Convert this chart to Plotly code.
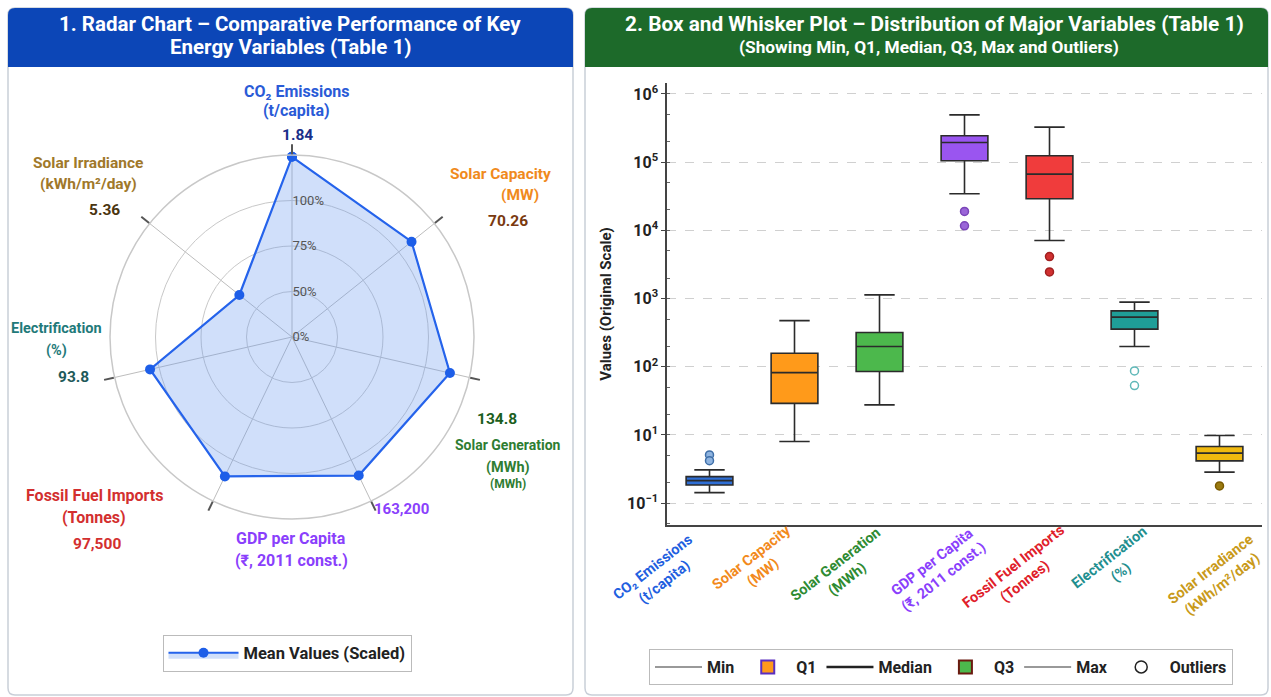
import plotly.graph_objects as go

W, H = 1271, 697

# ---------------- data ----------------
radar_categories = ["CO2 Emissions", "Solar Capacity", "Solar Generation", "GDP per Capita",
                    "Fossil Fuel Imports", "Electrification", "Solar Irradiance"]
radar_scaled = [0.99, 0.84, 0.89, 0.845, 0.85, 0.80, 0.37]
radar_means = ["1.84", "70.26", "134.8", "163,200", "97,500", "93.8", "5.36"]
radial_tickvals = [0, 0.25, 0.5, 0.75]
radial_ticktext = ["0%", "50%", "75%", "100%"]

box_categories = ["CO2", "SolarCap", "SolarGen", "GDP", "Fossil", "Elec", "Irrad"]
box_labels = [
    ("CO₂ Emissions", "(t/capita)"),
    ("Solar Capacity", "(MW)"),
    ("Solar Generation", "(MWh)"),
    ("GDP per Capita", "(₹, 2011 const.)"),
    ("Fossil Fuel Imports", "(Tonnes)"),
    ("Electrification", "(%)"),
    ("Solar Irradiance", "(kWh/m²/day)"),
]
box_min = [1.43, 8.0, 27.6, 34300, 7080, 198, 2.85]
box_q1 = [1.85, 29, 85, 104500, 29000, 356, 4.17]
box_median = [2.14, 82, 198, 194000, 66700, 534, 5.41]
box_q3 = [2.45, 158, 318, 243000, 124000, 660, 6.76]
box_max = [3.08, 475, 1133, 493000, 326000, 885, 9.8]
box_outliers = [[5.1, 4.2], [], [], [18900, 11640], [4130, 2460], [87, 53], [1.79]]
y_tickvals = [1, 10, 100, 1000, 10000, 100000, 1000000]
y_ticktext = ["<b>10<sup>−1</sup></b>", "<b>10<sup>1</sup></b>", "<b>10<sup>2</sup></b>",
              "<b>10<sup>3</sup></b>", "<b>10<sup>4</sup></b>", "<b>10<sup>5</sup></b>",
              "<b>10<sup>6</sup></b>"]

# ---------------- styles ----------------
box_fill = ["#2f6fd6", "#ff9a1a", "#4cb84c", "#9a55f0", "#f03c3c", "#1f9e98", "#f0b90f"]
label_colors = ["#1f5fe0", "#f28a1c", "#2e8b32", "#8a3ffc", "#e0202a", "#1f8f8f", "#c99a1a"]
label_xshift = [-51, -37, -38, -27, -30, -19, -3]
label_ypix = [575, 565, 572, 570, 574, 565, 577]
out_fill = ["#8fb4e0", None, None, "#9a65d8", "#d03030", "#ffffff", "#9a7a10"]
out_line = ["#3f6fa8", None, None, "#7a45b8", "#a02020", "#5fb8b8", "#7a5a00"]

FONT = "Roboto, Arial, sans-serif"


def px(x):
    return x / W


def py(y):
    return 1 - y / H


def rrect_path(x0, y0, x1, y1, r, bottom_round=True):
    rb = r if bottom_round else 0
    pts = [
        f"M {px(x0 + r)},{py(y0)}",
        f"L {px(x1 - r)},{py(y0)}",
        f"Q {px(x1)},{py(y0)} {px(x1)},{py(y0 + r)}",
        f"L {px(x1)},{py(y1 - rb)}",
    ]
    if rb:
        pts.append(f"Q {px(x1)},{py(y1)} {px(x1 - rb)},{py(y1)}")
    pts.append(f"L {px(x0 + rb)},{py(y1)}")
    if rb:
        pts.append(f"Q {px(x0)},{py(y1)} {px(x0)},{py(y1 - rb)}")
    pts.append(f"L {px(x0)},{py(y0 + r)}")
    pts.append(f"Q {px(x0)},{py(y0)} {px(x0 + r)},{py(y0)} Z")
    return " ".join(pts)


fig = go.Figure()

# ---------------- radar ----------------
fig.add_trace(go.Scatterpolar(
    r=radar_scaled + radar_scaled[:1],
    theta=radar_categories + radar_categories[:1],
    mode="lines+markers",
    fill="toself",
    fillcolor="rgba(110,155,240,0.32)",
    line=dict(color="#2563eb", width=2.2),
    marker=dict(size=10, color="#1d5ee8"),
    name="<b>Mean Values (Scaled)</b>",
    legend="legend",
    showlegend=True,
))

# ---------------- boxes ----------------
for i, c in enumerate(box_categories):
    fig.add_trace(go.Box(
        x=[c], q1=[box_q1[i]], median=[box_median[i]], q3=[box_q3[i]],
        lowerfence=[box_min[i]], upperfence=[box_max[i]],
        fillcolor=box_fill[i], line=dict(color="#2b2b2b", width=1.6),
        width=0.55, whiskerwidth=0.65, boxpoints=False, showlegend=False,
        xaxis="x", yaxis="y",
    ))
    if box_outliers[i]:
        fig.add_trace(go.Scatter(
            x=[c] * len(box_outliers[i]), y=box_outliers[i], mode="markers",
            marker=dict(size=8, color=out_fill[i], line=dict(color=out_line[i], width=1.5)),
            showlegend=False, xaxis="x", yaxis="y",
        ))

# legend dummies for the box plot
leg2 = [
    ("Min", dict(mode="lines", line=dict(color="#777", width=1.5))),
    ("Q1", dict(mode="markers", marker=dict(symbol="square", size=13, color="#ff9a1a",
                                             line=dict(color="#5a2fc0", width=2)))),
    ("Median", dict(mode="lines", line=dict(color="#222", width=2.5))),
    ("Q3", dict(mode="markers", marker=dict(symbol="square", size=13, color="#4cb84c",
                                             line=dict(color="#6a1a10", width=2)))),
    ("Max", dict(mode="lines", line=dict(color="#777", width=1.5))),
    ("Outliers", dict(mode="markers", marker=dict(symbol="circle-open", size=12,
                                                   color="#222", line=dict(width=1.5)))),
]
for name, kw in leg2:
    fig.add_trace(go.Scatter(x=[None], y=[None], name=f"<b>{name}</b>", legend="legend2",
                             showlegend=True, xaxis="x", yaxis="y", **kw))

# ---------------- panels ----------------
shapes = [
    dict(type="path", xref="paper", yref="paper", path=rrect_path(8, 8, 573, 695, 7),
         line=dict(color="#c9cfd8", width=1.5), fillcolor="white", layer="below"),
    dict(type="path", xref="paper", yref="paper", path=rrect_path(8, 8, 573, 67, 7, False),
         line=dict(width=0), fillcolor="#0c46b7", layer="below"),
    dict(type="path", xref="paper", yref="paper", path=rrect_path(585, 8, 1268, 695, 7),
         line=dict(color="#c9cfd8", width=1.5), fillcolor="white", layer="below"),
    dict(type="path", xref="paper", yref="paper", path=rrect_path(585, 8, 1268, 67, 7, False),
         line=dict(width=0), fillcolor="#1d6a2a", layer="below"),
]

annotations = []


def ann(text, x, y, color, size=15, bold=True, xanchor="center"):
    annotations.append(dict(
        text=f"<b>{text}</b>" if bold else text, x=px(x), y=py(y), xref="paper", yref="paper",
        showarrow=False, font=dict(family=FONT, size=size, color=color),
        xanchor=xanchor, yanchor="middle"))


# headers
ann("1. Radar Chart – Comparative Performance of Key", 290, 24, "white", 20.5)
ann("Energy Variables (Table 1)", 290, 47, "white", 20.5)
ann("2. Box and Whisker Plot – Distribution of Major Variables (Table 1)", 934, 24, "white", 20.8)
ann("(Showing Min, Q1, Median, Q3, Max and Outliers)", 929, 47, "white", 17.3)

# radar labels
ann("CO₂ Emissions", 296, 91, "#2a5bd7", 16)
ann("(t/capita)", 296, 111, "#2a5bd7", 16)
ann(radar_means[0], 297, 135, "#1a2f8a", 15.5)

ann("Solar Irradiance", 88, 163, "#a0782a", 15.5)
ann("(kWh/m²/day)", 88, 184, "#a0782a", 15.5)
ann(radar_means[6], 104, 210, "#4a3510", 15.5)

ann("Solar Capacity", 500, 174, "#f08a1c", 15.5)
ann("(MW)", 520, 195, "#f08a1c", 15.5)
ann(radar_means[1], 508, 221, "#7a3a10", 15.5)

ann("Electrification", 56, 328, "#1f7a7a", 14.5)
ann("(%)", 56, 351, "#1f7a7a", 14.5)
ann(radar_means[5], 73, 377, "#1e5a5a", 15.5)

ann(radar_means[2], 497, 419, "#1b5e20", 15.5)
ann("Solar Generation", 508, 445, "#2e7d32", 14)
ann("(MWh)", 508, 467, "#2e7d32", 14.5)
ann("(MWh)", 508, 484, "#2e7d32", 12)

ann("Fossil Fuel Imports", 94, 495, "#d32f2f", 16)
ann("(Tonnes)", 94, 517, "#d32f2f", 16)
ann(radar_means[4], 97, 544, "#d32f2f", 15.5)

ann(radar_means[3], 401, 509, "#8a3ffc", 15)
ann("GDP per Capita", 291, 538, "#8a3ffc", 16)
ann("(₹, 2011 const.)", 291, 560, "#8a3ffc", 16)

# rotated category labels under the box plot
for i, (a, b) in enumerate(box_labels):
    annotations.append(dict(
        text=f"<b>{a}</b><br><b>{b}</b>", x=box_categories[i], xref="x",
        y=py(label_ypix[i]), yref="paper", xanchor="center", yanchor="middle",
        xshift=label_xshift[i], textangle=-38, showarrow=False, align="center",
        font=dict(family=FONT, size=14.5, color=label_colors[i])))

fig.update_layout(
    width=W, height=H, margin=dict(l=0, r=0, t=0, b=0),
    paper_bgcolor="white", plot_bgcolor="white",
    font=dict(family=FONT, color="#222"),
    shapes=shapes, annotations=annotations,
    boxmode="overlay",
    polar=dict(
        domain=dict(x=[px(110), px(474)], y=[py(519), py(155)]),
        bgcolor="rgba(0,0,0,0)",
        angularaxis=dict(direction="clockwise", rotation=90, showticklabels=False,
                         ticks="outside", ticklen=10, tickwidth=2, tickcolor="#555",
                         gridcolor="#bdbdbd", gridwidth=1, showline=True,
                         linecolor="#c8c8c8", linewidth=1.5),
        radialaxis=dict(range=[0, 1], tickvals=radial_tickvals, ticktext=radial_ticktext,
                        angle=90, tickangle=90, showline=False, ticks="",
                        gridcolor="#c8c8c8", gridwidth=1.2,
                        tickfont=dict(size=13, color="#555", family=FONT)),
    ),
    xaxis=dict(domain=[px(667), px(1262)], anchor="y", type="category",
               categoryorder="array", categoryarray=box_categories,
               range=[-0.5, 6.5], autorange=False,
               showticklabels=False, showline=True, linecolor="#444",
               linewidth=1.5, showgrid=False, zeroline=False, ticks=""),
    yaxis=dict(domain=[py(525), py(83)], anchor="x", type="log",
               range=[-0.32, 6.16], tickvals=y_tickvals, ticktext=y_ticktext,
               tickfont=dict(size=16, family=FONT, color="#222"),
               showline=True, linecolor="#444", linewidth=1.5,
               showgrid=True, gridcolor="#d0d0d0", griddash="dash", gridwidth=1,
               ticks="outside", ticklen=4, tickcolor="#444",
               minor=dict(ticks="inside", ticklen=3, tickcolor="#666", showgrid=False),
               title=dict(text="<b>Values (Original Scale)</b>", font=dict(size=15, family=FONT),
                          standoff=12)),
    legend=dict(x=px(287), y=py(653), xanchor="center", yanchor="middle",
                orientation="h", bgcolor="white", bordercolor="#bbbbbb", borderwidth=1,
                font=dict(size=16.5, family=FONT, color="#222"), itemwidth=70),
    legend2=dict(x=px(941), y=py(667), xanchor="center", yanchor="middle",
                 orientation="h", bgcolor="white", bordercolor="#bbbbbb", borderwidth=1,
                 font=dict(size=16, family=FONT, color="#222"), itemwidth=47),
)

fig.write_html("out.html")
